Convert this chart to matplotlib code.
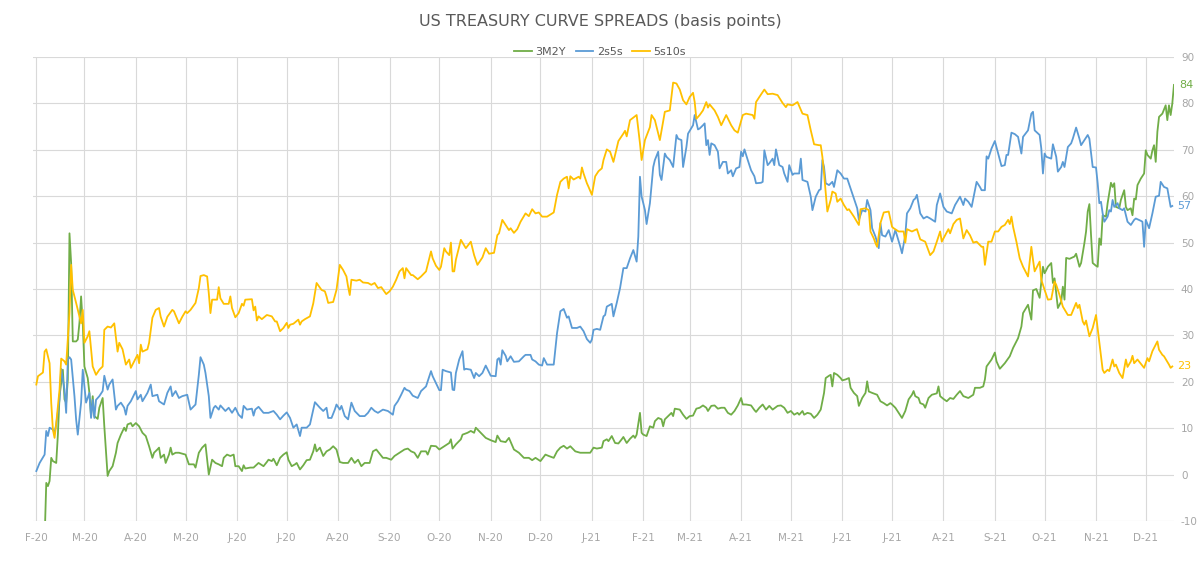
import numpy as np
import pandas as pd
import matplotlib
matplotlib.use('Agg')
import matplotlib.pyplot as plt
import matplotlib.dates as mdates

plt.rcParams['axes.unicode_minus'] = False

# day offsets are days since 2020-02-01
start = np.datetime64('2020-02-01')

g_day = [0, 5, 6, 7, 8, 9, 10, 12, 13, 14, 16, 17, 18, 19, 20, 21, 22, 24, 25, 26, 27, 28, 29, 31, 32, 33, 34, 35, 37, 38,
         40, 41, 43, 44, 46, 48, 49, 51, 53, 54, 55, 57, 58, 60, 62, 64, 66, 68, 70, 71, 73, 74, 75, 77, 78, 80, 81, 82, 84, 86,
         90, 92, 95, 96, 98, 100, 102, 104, 106, 108, 110, 112, 113, 115, 117, 119, 120, 122, 124, 125, 126, 129, 131, 134, 137,
         139, 140, 142, 143, 145, 147, 149, 151, 152, 154, 156, 157, 159, 161, 163, 165, 167, 168, 169, 171, 173, 175, 177, 179,
         181, 183, 185, 188, 190, 192, 194, 196, 198, 201, 203, 205, 207, 209, 211, 214, 216, 219, 222, 224, 226, 228, 230, 232,
         235, 236, 238, 241, 243, 246, 249, 250, 251, 253, 256, 257, 260, 262, 264, 265, 268, 271, 274, 277, 278, 280, 283, 285,
         288, 291, 294, 297, 299, 301, 304, 307, 309, 312, 314, 316, 318, 320, 322, 325, 328, 331, 334, 336, 338, 341, 342, 344,
         345, 347, 349, 351, 353, 354, 356, 358, 360, 361, 362, 364, 365, 366, 368, 370, 372, 373, 375, 377, 378, 379, 381, 383,
         384, 385, 388, 390, 392, 394, 396, 398, 400, 402, 404, 405, 407, 409, 411, 413, 415, 417, 419, 421, 423, 425, 426, 428,
         431, 433, 434, 436, 438, 440, 442, 444, 447, 449, 451, 453, 455, 457, 459, 460, 462, 463, 465, 467, 469, 471, 473, 475,
         476, 478, 479, 480, 481, 483, 485, 486, 488, 490, 491, 493, 495, 496, 498, 500, 501, 502, 504, 507, 508, 509, 511, 513,
         515, 516, 518, 520, 522, 524, 526, 528, 529, 530, 532, 533, 535, 536, 538, 540, 543, 544, 545, 547, 549, 551, 553, 555,
         557, 559, 562, 565, 566, 569, 571, 572, 573, 576, 578, 579, 581, 584, 587, 589, 592, 594, 595, 598, 600, 601, 603, 605,
         607, 608, 609, 610, 612, 613, 614, 615, 616, 618, 619, 620, 621, 623, 626, 627, 629, 630, 632, 633, 634, 635, 636, 637,
         639, 640, 641, 642, 643, 645, 646, 648, 649, 650, 651, 653, 654, 656, 657, 658, 660, 661, 662, 663, 664, 666, 668, 669,
         670, 672, 673, 674, 675, 676, 677, 679, 681, 682, 683, 684, 685, 686]
g_val = [-15, -14, -1.8, -2.5, -1.4, 3.6, 2.9, 2.5, 8.6, 16.9, 22.6, 16.2, 15.5, 20.5, 52.0, 45.6, 28.7, 28.7, 29.1, 32.7,
         38.4, 32.7, 23.3, 20.8, 17.6, 12.6, 16.9, 12.6, 12.0, 14.4, 16.5, 10.4, -0.3, 0.75, 1.8, 4.7, 6.8, 8.6, 10.1, 9.4, 10.8,
         11.1, 10.4, 11.1, 10.4, 9.0, 8.3, 6.1, 3.6, 4.7, 5.4, 5.8, 3.6, 4.3, 2.5, 4.3, 5.8, 4.3, 4.7, 4.7, 4.3, 2.2, 2.2, 1.5,
         4.7, 5.8, 6.5, 0.0, 3.2, 2.5, 2.2, 1.8, 3.6, 4.3, 4.0, 4.3, 1.8, 1.8, 0.75, 2.0, 1.3, 1.5, 1.5, 2.5, 1.8, 2.7, 3.2, 2.9,
         3.4, 2.0, 3.6, 4.3, 4.8, 3.2, 1.8, 2.2, 2.5, 1.1, 2.0, 3.1, 3.2, 5.0, 6.5, 5.0, 5.8, 4.0, 5.0, 5.4, 6.1, 5.4, 2.7, 2.5,
         2.5, 3.6, 2.5, 3.2, 1.8, 2.5, 2.5, 5.0, 5.4, 4.5, 3.6, 3.6, 3.2, 4.0, 4.7, 5.4, 5.6, 5.0, 4.7, 3.6, 5.0, 5.0, 4.3, 6.2,
         6.1, 5.4, 6.1, 6.8, 7.6, 5.6, 6.5, 7.6, 8.6, 9.0, 9.4, 9.0, 10.1, 9.0, 7.9, 7.4, 7.0, 8.4, 7.2, 7.0, 7.9, 5.4, 4.7, 3.6,
         3.6, 3.1, 3.6, 2.9, 4.3, 4.0, 3.6, 5.0, 5.8, 6.2, 5.6, 6.1, 5.0, 4.7, 4.7, 4.7, 5.8, 5.6, 5.8, 7.2, 7.6, 7.2, 8.3, 6.8,
         6.7, 7.6, 8.1, 6.8, 7.7, 8.4, 7.9, 8.6, 13.3, 9.0, 8.6, 8.3, 10.4, 10.1, 11.5, 12.2, 11.9, 10.4, 11.9, 12.6, 13.3, 12.6,
         14.2, 14.0, 12.9, 12.0, 12.6, 12.7, 14.2, 14.4, 14.9, 14.4, 13.7, 14.8, 14.9, 14.2, 14.4, 14.4, 13.3, 12.9, 13.7, 14.9,
         16.5, 15.1, 15.1, 14.9, 13.9, 13.5, 14.4, 15.1, 14.0, 14.8, 14.0, 14.8, 14.9, 14.4, 13.3, 13.7, 12.9, 13.3, 12.9, 13.7,
         12.9, 13.3, 13.1, 12.2, 12.9, 14.0, 17.6, 20.8, 21.3, 21.5, 19.0, 21.9, 21.5, 20.8, 20.3, 20.5, 20.8, 18.7, 17.6, 16.9,
         14.8, 16.5, 17.6, 20.1, 17.9, 17.6, 17.2, 16.5, 15.8, 15.4, 14.9, 15.4, 15.1, 14.4, 13.3, 12.2, 13.7, 16.2, 17.2, 18.0,
         16.9, 16.5, 15.4, 15.1, 14.4, 16.5, 17.2, 17.5, 19.0, 16.9, 16.3, 15.8, 16.5, 16.3, 17.2, 18.0, 16.9, 16.5, 17.2, 18.7,
         18.7, 19.0, 20.5, 23.3, 24.8, 26.3, 24.4, 22.8, 24.0, 25.5, 27.3, 29.4, 31.9, 34.8, 36.6, 33.4, 39.7, 40.0, 38.1, 44.8,
         43.4, 44.1, 44.8, 45.6, 41.3, 42.3, 39.1, 35.9, 37.3, 40.5, 37.7, 46.7, 46.5, 47.0, 47.6, 44.8, 45.6, 49.9, 52.4, 56.7,
         58.3, 51.6, 45.6, 45.0, 44.8, 50.9, 49.5, 55.9, 55.6, 58.5, 62.9, 62.0, 62.8, 57.7, 57.4, 59.2, 61.3, 57.7, 57.0, 57.4,
         55.9, 59.5, 59.3, 62.4, 63.8, 64.9, 69.9, 68.9, 68.1, 69.9, 71.0, 67.4, 73.9, 77.1, 77.8, 79.6, 76.4, 79.6, 77.5, 80.0,
         84.0]

b_day = [0, 2, 5, 6, 7, 8, 10, 11, 12, 14, 15, 17, 18, 19, 20, 21, 23, 24, 25, 27, 28, 30, 32, 33, 34, 35, 36, 38, 40, 41,
         43, 44, 46, 48, 49, 51, 53, 54, 55, 57, 60, 61, 63, 64, 67, 69, 70, 73, 74, 77, 79, 81, 82, 84, 86, 88, 91, 93, 96, 98,
         99, 101, 102, 104, 105, 107, 108, 110, 111, 114, 116, 118, 120, 122, 124, 125, 127, 130, 131, 132, 134, 137, 140, 143,
         145, 147, 149, 151, 153, 155, 157, 159, 160, 163, 165, 167, 168, 171, 173, 175, 176, 178, 180, 181, 183, 184, 186, 188,
         190, 192, 195, 198, 200, 202, 204, 206, 209, 212, 215, 216, 218, 220, 222, 223, 225, 227, 230, 232, 235, 238, 239, 241,
         243, 244, 245, 247, 250, 251, 252, 253, 255, 257, 258, 259, 262, 264, 265, 267, 269, 271, 274, 277, 278, 279, 280, 281,
         283, 284, 286, 288, 291, 294, 295, 298, 299, 301, 303, 305, 306, 308, 312, 314, 316, 318, 320, 321, 323, 326, 328, 330,
         332, 334, 335, 336, 338, 340, 342, 343, 344, 347, 348, 350, 352, 354, 356, 358, 360, 362, 363, 364, 365, 366, 367, 368,
         370, 372, 373, 375, 376, 377, 379, 380, 382, 384, 386, 387, 389, 390, 392, 393, 396, 397, 399, 400, 402, 403, 404, 405,
         406, 407, 409, 411, 412, 414, 416, 417, 419, 420, 422, 424, 425, 426, 427, 429, 431, 433, 434, 437, 438, 439, 441, 442,
         444, 445, 446, 448, 450, 451, 453, 454, 456, 457, 459, 460, 461, 462, 465, 467, 468, 470, 472, 473, 474, 475, 476, 478,
         480, 481, 483, 485, 487, 489, 492, 495, 496, 498, 500, 501, 503, 504, 506, 508, 509, 510, 512, 514, 516, 518, 521, 522,
         524, 525, 527, 529, 530, 531, 533, 535, 537, 539, 542, 543, 545, 547, 549, 552, 554, 557, 559, 560, 562, 564, 565, 567,
         569, 570, 572, 573, 574, 576, 578, 580, 582, 584, 585, 586, 588, 590, 592, 594, 595, 598, 600, 601, 602, 605, 606, 607,
         608, 609, 612, 613, 615, 616, 618, 619, 620, 622, 624, 625, 627, 629, 630, 632, 634, 635, 637, 639, 640, 641, 642, 643,
         644, 646, 647, 648, 649, 650, 652, 653, 655, 656, 658, 660, 662, 663, 666, 667, 668, 669, 671, 673, 675, 677, 678, 680,
         682, 684, 685]
b_val = [0.75, 2.5, 4.3, 9.4, 8.3, 10.1, 9.7, 9.0, 10.8, 16.2, 22.8, 18.3, 13.3, 24.8, 25.3, 24.8, 16.9, 11.9, 8.6, 15.5,
         22.6, 15.5, 17.6, 12.2, 16.1, 12.2, 16.1, 16.9, 18.0, 21.3, 18.3, 19.4, 20.5, 14.0, 14.8, 15.5, 14.4, 12.9, 14.8, 15.8,
         18.0, 16.2, 17.2, 15.8, 17.6, 19.4, 16.9, 17.2, 15.8, 15.1, 17.6, 19.0, 16.9, 18.0, 16.5, 16.9, 17.2, 14.0, 15.1, 21.5,
         25.3, 23.7, 21.9, 16.9, 12.2, 14.4, 14.8, 14.0, 14.9, 13.7, 14.4, 13.3, 14.4, 12.9, 12.2, 14.8, 14.0, 14.2, 12.7, 14.0,
         14.6, 13.3, 13.3, 13.7, 12.9, 11.9, 12.7, 13.4, 12.2, 10.1, 10.8, 8.3, 10.1, 10.1, 10.8, 14.0, 15.6, 14.4, 13.7, 14.4,
         12.2, 12.2, 14.0, 15.1, 14.0, 14.8, 12.6, 11.9, 15.5, 13.7, 12.6, 12.6, 13.3, 14.4, 13.7, 13.3, 14.0, 13.7, 12.9, 14.8,
         15.8, 17.2, 18.7, 18.3, 18.0, 17.0, 16.5, 18.0, 19.0, 22.3, 21.2, 19.7, 18.2, 18.2, 22.6, 22.3, 22.0, 18.3, 18.2, 21.9,
         24.8, 26.6, 22.6, 22.8, 22.6, 20.8, 21.9, 21.2, 21.9, 23.5, 21.3, 21.2, 24.8, 25.1, 23.7, 26.8, 25.6, 24.4, 25.5, 24.3,
         24.4, 25.5, 25.8, 25.8, 24.8, 24.4, 23.7, 23.5, 25.1, 23.7, 23.7, 30.5, 35.2, 35.7, 33.8, 34.1, 31.6, 31.6, 31.9, 30.9,
         29.2, 28.4, 29.1, 31.2, 31.4, 31.2, 34.1, 34.4, 36.2, 36.8, 34.1, 37.0, 40.2, 44.5, 44.5, 46.6, 48.4, 45.9, 51.3, 64.2,
         59.9, 58.5, 57.0, 54.0, 58.5, 66.3, 67.8, 69.6, 64.6, 63.5, 69.2, 68.5, 67.8, 66.3, 73.2, 72.4, 72.1, 66.3, 70.6, 73.5,
         75.3, 77.5, 74.4, 74.6, 75.3, 75.7, 71.0, 72.1, 68.9, 71.4, 71.0, 69.6, 66.0, 67.4, 67.4, 64.9, 65.6, 64.3, 66.0, 66.3,
         69.6, 68.6, 70.1, 67.8, 65.6, 64.3, 62.8, 62.9, 63.1, 69.9, 66.7, 67.1, 68.1, 66.7, 70.1, 66.7, 66.3, 64.9, 63.1, 66.7,
         64.6, 64.9, 64.9, 64.9, 68.1, 63.5, 63.1, 59.9, 57.0, 59.9, 61.3, 61.5, 67.8, 66.3, 62.8, 62.4, 63.1, 62.0, 65.6, 64.9,
         63.8, 63.8, 60.6, 57.4, 54.9, 57.0, 56.7, 59.2, 57.0, 53.1, 51.3, 48.8, 54.2, 51.6, 51.3, 52.7, 50.2, 52.7, 49.1, 47.7,
         51.6, 56.3, 57.4, 59.2, 59.5, 60.3, 56.3, 55.2, 55.6, 55.2, 54.5, 58.1, 60.6, 57.7, 56.7, 56.3, 58.1, 59.9, 58.1, 59.5,
         58.8, 57.7, 59.5, 63.1, 62.0, 61.3, 61.3, 68.6, 68.1, 70.3, 71.9, 69.2, 66.5, 66.7, 68.9, 68.9, 73.7, 73.4, 72.8, 69.2,
         72.8, 74.2, 77.8, 78.2, 74.2, 73.2, 70.3, 64.9, 69.2, 68.5, 68.1, 71.2, 68.5, 65.3, 66.3, 67.4, 66.3, 70.6, 71.4, 72.4,
         74.8, 72.4, 71.0, 72.1, 73.2, 72.4, 66.3, 66.2, 62.8, 58.5, 58.8, 56.3, 54.5, 55.6, 57.0, 56.7, 59.2, 57.7, 58.5, 57.4,
         57.0, 57.4, 54.5, 53.8, 54.9, 55.2, 54.7, 54.5, 49.1, 54.9, 53.1, 56.3, 59.9, 60.1, 63.1, 62.0, 61.7, 57.7, 57.9]

y_day = [0, 1, 4, 5, 6, 8, 9, 10, 11, 12, 14, 15, 17, 18, 20, 21, 22, 24, 26, 27, 28, 29, 31, 32, 34, 36, 38, 40, 41, 43,
         45, 47, 49, 50, 52, 54, 56, 57, 59, 61, 62, 63, 64, 67, 68, 70, 72, 74, 75, 77, 79, 82, 83, 86, 88, 90, 91, 93, 96, 98,
         99, 101, 103, 104, 105, 106, 109, 110, 111, 113, 116, 117, 118, 120, 122, 124, 125, 126, 130, 131, 132, 133, 134, 136,
         139, 142, 144, 145, 147, 149, 151, 152, 153, 155, 158, 159, 160, 162, 165, 167, 169, 172, 174, 175, 176, 179, 181, 183,
         185, 187, 188, 189, 190, 193, 195, 197, 200, 202, 204, 206, 208, 211, 213, 215, 217, 219, 221, 222, 223, 226, 227, 230,
         232, 235, 238, 239, 241, 243, 244, 246, 247, 249, 250, 251, 252, 253, 256, 259, 262, 264, 266, 269, 271, 273, 276, 278,
         279, 281, 283, 285, 286, 288, 290, 292, 295, 297, 299, 301, 303, 305, 308, 312, 314, 316, 318, 320, 321, 322, 324, 327,
         328, 329, 330, 332, 333, 335, 337, 339, 341, 342, 344, 346, 348, 351, 354, 355, 356, 358, 362, 364, 365, 367, 370, 371,
         373, 376, 379, 382, 384, 386, 388, 390, 392, 394, 396, 397, 398, 400, 402, 404, 405, 406, 409, 411, 413, 416, 419, 421,
         423, 426, 428, 432, 433, 434, 436, 439, 441, 444, 447, 450, 452, 453, 456, 459, 462, 465, 467, 469, 472, 473, 474, 475,
         477, 479, 480, 482, 483, 485, 487, 489, 490, 493, 496, 497, 500, 502, 503, 505, 506, 507, 509, 511, 514, 516, 517, 520,
         523, 524, 525, 528, 531, 533, 536, 539, 541, 543, 545, 546, 547, 550, 551, 553, 555, 557, 559, 561, 563, 565, 567, 570,
         571, 572, 574, 576, 578, 580, 582, 584, 586, 587, 588, 589, 591, 593, 595, 598, 600, 601, 602, 605, 606, 608, 610, 612,
         614, 615, 617, 619, 622, 624, 627, 628, 629, 631, 632, 633, 635, 637, 639, 641, 643, 644, 646, 647, 649, 650, 651, 653,
         655, 657, 658, 660, 661, 662, 664, 668, 670, 671, 673, 676, 677, 679, 680, 683, 684, 685]
y_val = [19.4, 21.2, 22.0, 26.5, 27.0, 24.0, 15.4, 9.7, 7.9, 11.0, 18.3, 25.0, 24.4, 23.7, 34.8, 45.2, 39.8, 37.0, 34.0,
         32.6, 35.5, 28.4, 29.8, 30.9, 23.3, 21.5, 22.6, 23.3, 31.2, 31.9, 31.7, 32.6, 26.5, 28.4, 27.0, 23.7, 24.8, 23.0, 24.4,
         25.8, 24.0, 28.0, 26.5, 27.0, 28.4, 33.8, 35.5, 35.9, 34.0, 31.9, 34.0, 35.5, 35.2, 32.6, 34.0, 35.2, 34.8, 35.5, 37.0,
         40.2, 42.8, 43.0, 42.7, 39.1, 34.8, 37.7, 37.7, 40.4, 38.0, 36.8, 36.8, 38.4, 35.9, 33.9, 34.8, 36.8, 36.4, 37.7, 37.8,
         35.4, 36.2, 33.2, 34.1, 33.5, 34.4, 34.1, 33.0, 33.0, 30.9, 31.6, 32.7, 31.6, 32.3, 32.5, 33.4, 32.3, 33.0, 33.5, 34.1,
         36.9, 41.3, 39.8, 39.5, 38.4, 37.0, 37.2, 39.8, 45.2, 44.1, 42.7, 40.5, 38.7, 42.0, 41.8, 42.0, 41.4, 41.3, 40.9, 41.3,
         40.2, 40.4, 38.9, 39.5, 40.5, 42.0, 43.8, 44.5, 42.3, 44.5, 43.0, 43.0, 42.1, 42.7, 43.8, 48.1, 46.6, 45.0, 44.1, 44.8,
         48.8, 48.1, 47.3, 50.0, 43.8, 43.8, 46.3, 50.6, 48.8, 50.2, 47.3, 45.2, 46.8, 48.8, 47.6, 47.8, 51.6, 52.0, 54.9, 53.8,
         52.7, 53.1, 52.1, 52.9, 54.5, 56.3, 55.7, 57.2, 56.3, 56.5, 55.6, 55.6, 56.5, 60.3, 63.1, 63.8, 64.2, 61.7, 64.3, 63.6,
         64.2, 63.8, 66.2, 64.9, 62.8, 62.0, 60.3, 64.3, 65.4, 66.0, 67.8, 70.1, 69.6, 67.4, 71.9, 73.5, 74.1, 72.9, 76.4, 77.5,
         71.4, 67.8, 72.1, 74.9, 77.5, 76.4, 72.1, 78.2, 78.5, 84.5, 84.3, 83.0, 80.7, 79.8, 81.4, 82.3, 80.3, 76.7, 77.5, 78.5,
         80.3, 79.1, 79.8, 78.5, 77.1, 75.3, 77.5, 75.3, 74.2, 73.7, 77.5, 77.8, 77.5, 76.7, 80.3, 81.4, 83.0, 82.0, 82.1, 81.8,
         80.1, 79.2, 79.8, 79.6, 80.3, 77.8, 77.5, 74.2, 71.2, 71.0, 71.0, 68.5, 64.9, 56.7, 59.2, 61.0, 60.6, 58.8, 59.5, 58.1,
         57.0, 57.2, 55.6, 53.8, 57.2, 57.4, 57.0, 52.4, 50.9, 49.9, 49.1, 54.2, 56.5, 56.7, 53.4, 53.1, 52.4, 52.4, 50.0, 52.9,
         52.4, 52.9, 50.7, 50.2, 47.3, 48.1, 50.2, 52.4, 50.2, 50.9, 52.9, 52.0, 54.0, 54.9, 55.2, 50.9, 52.7, 51.6, 50.0, 50.2,
         49.1, 49.1, 45.2, 50.2, 50.2, 52.4, 52.4, 53.4, 53.8, 54.9, 54.0, 55.6, 53.4, 50.2, 46.6, 44.8, 42.7, 49.1, 46.3, 43.8,
         45.9, 42.0, 39.8, 37.7, 37.8, 41.6, 40.9, 38.7, 36.2, 34.4, 34.4, 37.0, 35.9, 36.6, 33.0, 32.3, 33.2, 29.8, 31.6, 34.4,
         28.4, 22.6, 21.9, 22.6, 22.3, 24.8, 23.3, 23.7, 21.9, 20.8, 24.8, 23.2, 24.4, 25.6, 24.0, 24.8, 23.0, 25.1, 24.4, 26.6,
         28.7, 26.9, 25.8, 25.5, 23.7, 23.0, 23.3]

series = ['3M2Y', '2s5s', '5s10s']
colors = ['#70AD47', '#5B9BD5', '#FFC000']
days = [g_day, b_day, y_day]
vals = [g_val, b_val, y_val]

months = pd.date_range('2020-02-01', '2021-12-01', freq='MS')
month_labels = [m.strftime('%b')[0] + '-' + m.strftime('%y') for m in months]
x0 = mdates.date2num(start)

fig = plt.figure(figsize=(12, 5.65), dpi=100)
ax = fig.add_axes([0.0275, 0.078, 0.9508, 0.821])

for name, c, d, v in zip(series, colors, days, vals):
    x = x0 + np.array(d, dtype=float)
    ax.plot(x, v, color=c, lw=1.3, label=name, solid_joinstyle='round')
    ax.text(x[-1] + 3, v[-1], str(int(v[-1])), color=c, fontsize=8,
            va='center', ha='left', clip_on=False)

ax.set_ylim(-10, 90)
ax.set_xlim(x0 - 2, x0 + 686)
ax.set_yticks(range(-10, 91, 10))
ax.set_xticks(mdates.date2num(months))
ax.set_xticklabels(month_labels)
ax.yaxis.tick_right()
ax.tick_params(axis='both', length=0, colors='#A6A6A6', labelsize=7.5)
ax.tick_params(axis='y', pad=5)
ax.tick_params(axis='x', pad=9)
ax.grid(True, color='#D9D9D9', lw=0.8)
ax.set_axisbelow(True)
for s in ax.spines.values():
    s.set_visible(False)

fig.suptitle('US TREASURY CURVE SPREADS (basis points)', y=0.975, fontsize=11.5, color='#595959')
fig.legend(loc='upper center', bbox_to_anchor=(0.5, 0.935), ncol=3, frameon=False,
           fontsize=8, handlelength=1.6, handletextpad=0.3, columnspacing=0.9, labelcolor='#595959')

fig.savefig('out.png', dpi=100)
